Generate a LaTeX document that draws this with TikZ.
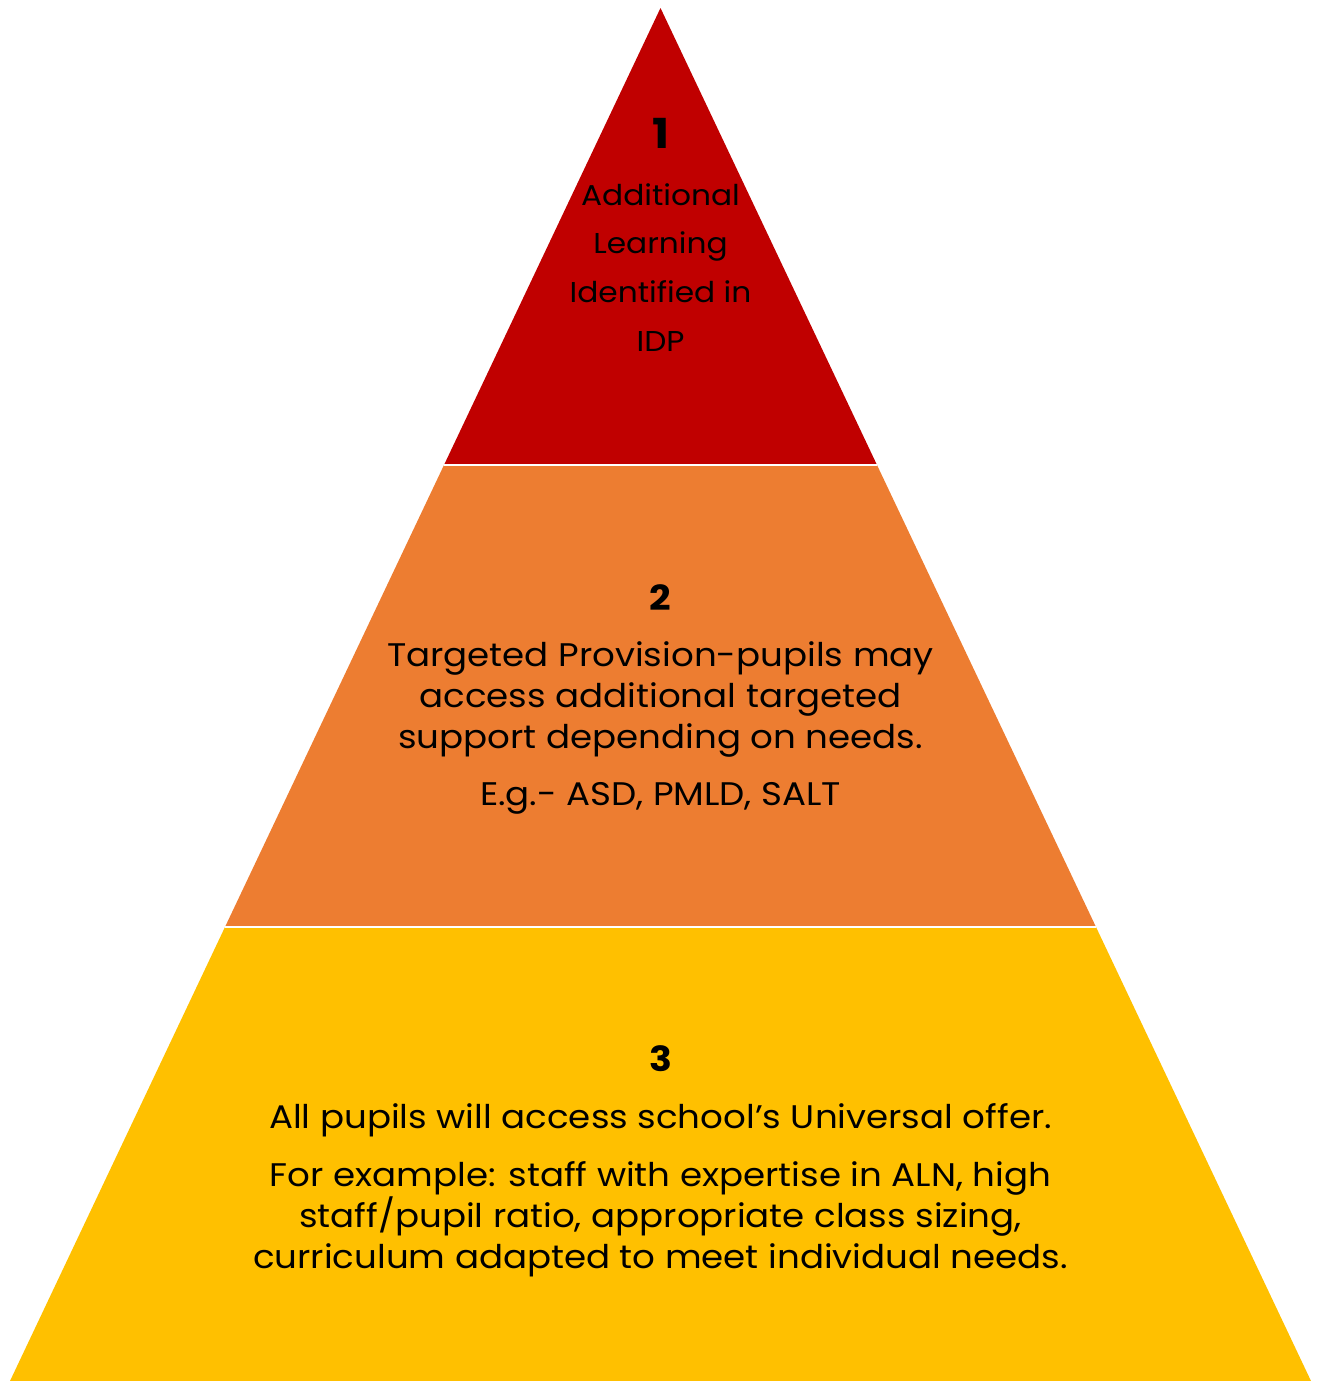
\documentclass[tikz,border=0pt]{standalone}
\usepackage{fontspec}
\setmainfont{Poppins}[FakeStretch=1.09]
\definecolor{tierred}{HTML}{C00000}
\definecolor{tierorange}{HTML}{ED7D31}
\definecolor{tieryellow}{HTML}{FFC000}
\begin{document}
\begin{tikzpicture}[x=0.75pt,y=-0.75pt,
  numlabel/.style={font=\fontsize{26}{31}\selectfont\bfseries, inner sep=0pt, anchor=base},
  bodytext/.style={font=\fontsize{24.5}{30.4}\selectfont, align=center, inner sep=0pt, anchor=base},
  toptext/.style={font=\fontsize{21.5}{36.5}\selectfont, align=center, inner sep=0pt, anchor=base},
  cut/.style={draw=white, line width=2pt}]
\useasboundingbox (0,0) rectangle (1321,1381);
% outline points
\coordinate (apex) at (660.5,8);
\coordinate (bl) at (10,1381);
\coordinate (br) at (1311,1381);
\coordinate (l1) at (444,465);
\coordinate (r1) at (877,465);
\coordinate (l2) at (225,927);
\coordinate (r2) at (1096,927);
% tiers
\fill[tierred] (apex) -- (r1) -- (l1) -- cycle;
\fill[tierorange] (l1) -- (r1) -- (r2) -- (l2) -- cycle;
\fill[tieryellow] (l2) -- (r2) -- (br) -- (bl) -- cycle;
\draw[cut] (l1) -- (r1);
\draw[cut] (l2) -- (r2);
% texts (base anchor = baseline of last line)
\node[numlabel, font=\fontsize{31}{36}\selectfont\bfseries] (n1) at (660.5,148) {1};
\node[toptext] (t1) at (660.5,351) {Additional\\Learning\\Identified in\\IDP};
\node[numlabel] (n2) at (660.5,610) {2};
\node[bodytext] (t2a) at (660.5,748) {Targeted Provision-pupils may\\access additional targeted\\support depending on needs.};
\node[bodytext] (t2b) at (660.5,805) {E.g.- ASD, PMLD, SALT};
\node[numlabel] (n3) at (660.5,1071) {3};
\node[bodytext] (t3a) at (660.5,1128) {All pupils will access school’s Universal offer.};
\node[bodytext] (t3b) at (660.5,1268) {For example: staff with expertise in ALN, high\\staff/pupil ratio, appropriate class sizing,\\curriculum adapted to meet individual needs.};
\end{tikzpicture}
\end{document}
